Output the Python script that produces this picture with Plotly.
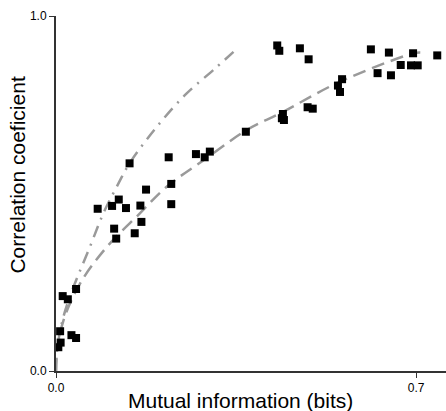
import plotly.graph_objects as go

# Scatter data (mutual information in bits, correlation coefficient)
mi = [0.0045, 0.009, 0.008, 0.030, 0.039, 0.013, 0.023, 0.039, 0.081, 0.109,
      0.122, 0.136, 0.164, 0.175, 0.224, 0.224, 0.113, 0.117, 0.153, 0.166,
      0.143, 0.219, 0.272, 0.289, 0.299, 0.369, 0.430, 0.434, 0.474, 0.491,
      0.612, 0.647, 0.694, 0.741, 0.625, 0.651, 0.670, 0.690, 0.703, 0.556,
      0.548, 0.552, 0.489, 0.499, 0.441, 0.439, 0.443]
corr = [0.067, 0.080, 0.112, 0.101, 0.093, 0.211, 0.202, 0.231, 0.457, 0.465,
        0.483, 0.459, 0.466, 0.511, 0.527, 0.470, 0.401, 0.373, 0.388, 0.420,
        0.585, 0.602, 0.611, 0.602, 0.618, 0.674, 0.917, 0.902, 0.909, 0.878,
        0.906, 0.897, 0.895, 0.889, 0.839, 0.833, 0.862, 0.861, 0.861, 0.822,
        0.804, 0.786, 0.743, 0.739, 0.724, 0.712, 0.707]

# Fitted curves
dash_x = [0.0, 0.002, 0.014, 0.047, 0.099, 0.163, 0.215, 0.293, 0.371, 0.436, 0.552, 0.695, 0.708]
dash_y = [0.0, 0.05, 0.140, 0.247, 0.350, 0.444, 0.519, 0.600, 0.679, 0.726, 0.815, 0.895, 0.897]

dashdot_x = [0.0, 0.002, 0.014, 0.031, 0.066, 0.092, 0.118, 0.143, 0.196, 0.254, 0.306, 0.345]
dashdot_y = [0.0, 0.06, 0.150, 0.225, 0.350, 0.444, 0.519, 0.585, 0.688, 0.782, 0.848, 0.899]

x_ticks = [0.0, 0.7]
x_labels = ["0.0", "0.7"]
y_ticks = [0.0, 1.0]
y_labels = ["0.0", "1.0"]

x_title = "Mutual information (bits)"
y_title = "Correlation coeficient"

fig = go.Figure()
fig.add_trace(go.Scatter(x=dashdot_x, y=dashdot_y, mode="lines",
                         line=dict(color="#9a9a9a", width=2.5, dash="12px,7px,2px,7px", shape="spline"),
                         hoverinfo="skip"))
fig.add_trace(go.Scatter(x=dash_x, y=dash_y, mode="lines",
                         line=dict(color="#9a9a9a", width=2.5, dash="13px,7px", shape="spline"),
                         hoverinfo="skip"))
fig.add_trace(go.Scatter(x=mi, y=corr, mode="markers",
                         marker=dict(symbol="square", size=8, color="black"),
                         cliponaxis=False))

font = "Liberation Sans, Arial, sans-serif"
fig.update_layout(
    width=446, height=411,
    margin=dict(l=56, r=0, t=16, b=40),
    plot_bgcolor="white", paper_bgcolor="white",
    showlegend=False,
    font=dict(family=font, color="black"),
    xaxis=dict(range=[0, 0.758], tickvals=x_ticks, ticktext=x_labels,
               showgrid=False, zeroline=False, showline=True, linecolor="#333333", linewidth=2,
               ticks="outside", ticklen=5, tickcolor="#333333", tickfont=dict(size=12)),
    yaxis=dict(range=[0, 1.0], tickvals=y_ticks, ticktext=y_labels,
               showgrid=False, zeroline=False, showline=True, linecolor="#333333", linewidth=2,
               ticks="outside", ticklen=5, tickcolor="#333333", tickfont=dict(size=12)),
    annotations=[
        dict(text=x_title, xref="paper", yref="paper", x=0.473, y=-0.0845,
             xanchor="center", yanchor="middle", showarrow=False, font=dict(size=21)),
        dict(text=y_title, xref="paper", yref="paper", x=-0.0987, y=0.552,
             xanchor="center", yanchor="middle", textangle=-90, showarrow=False, font=dict(size=21)),
    ],
)

fig.write_html("out.html")
